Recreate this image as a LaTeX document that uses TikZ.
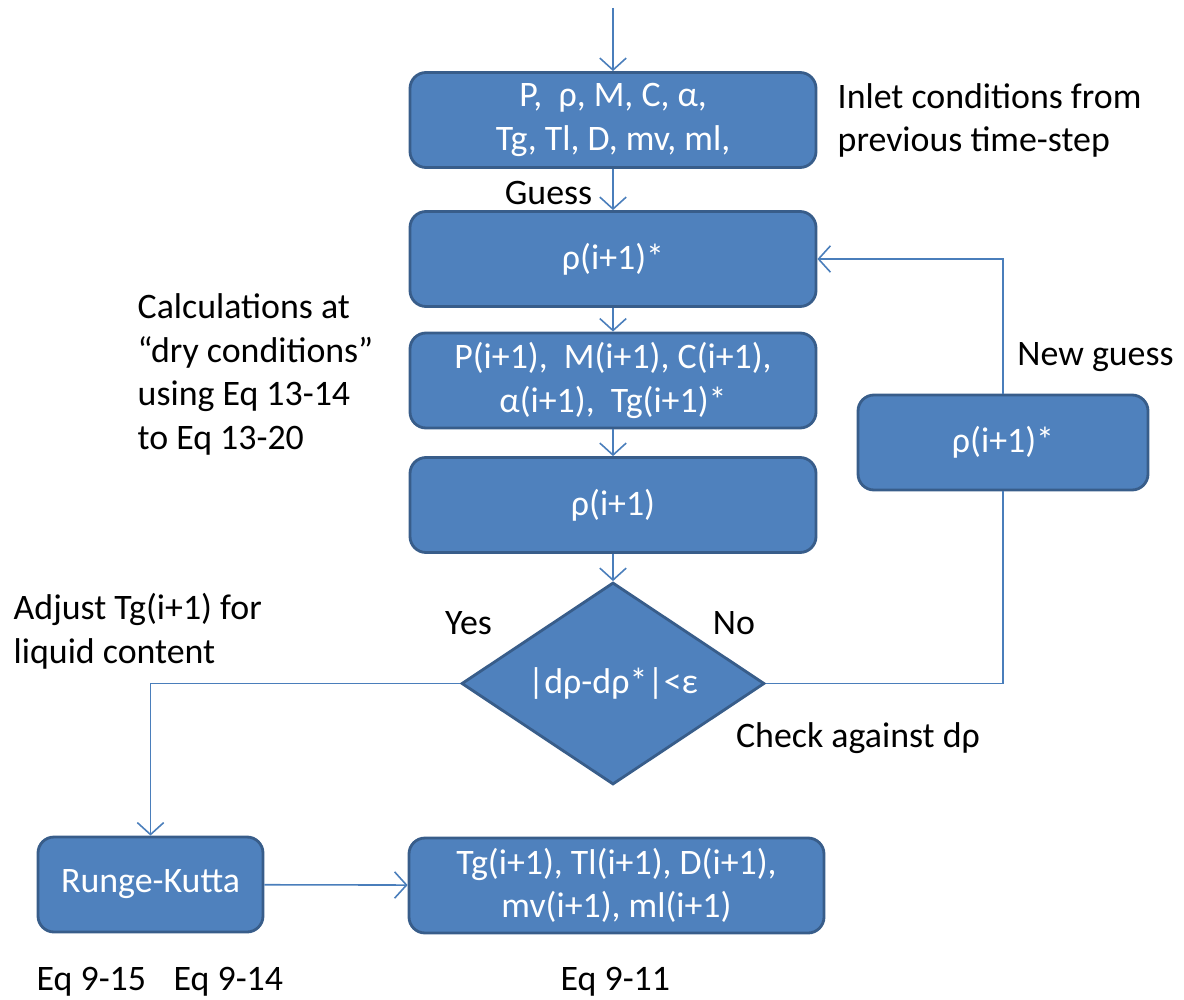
\documentclass[tikz,border=0pt]{standalone}
\usepackage{fontspec}
\setmainfont{Carlito}
\usepackage{xcolor}
\usepackage{tikz}
\usetikzlibrary{shapes, shapes.geometric, arrows.meta, positioning}
\definecolor{boxfill}{HTML}{4F81BD}
\definecolor{boxline}{HTML}{385D8A}
\definecolor{linkcol}{HTML}{4A7EBB}

\begin{document}
\begin{tikzpicture}[font=\fontsize{10.2}{12.4}\selectfont,
            >={Straight Barb[length=3.4pt, width=7.5pt]},
            box/.style={draw=boxline, line width=0.8pt, rectangle, rounded corners=0.16cm, fill=boxfill, text=white, align=center, minimum height=0.95cm, inner sep=0pt},
            decide/.style={draw=boxline, line width=0.8pt, diamond, fill=boxfill, text=white, minimum width=3.03cm, minimum height=1.97cm, inner sep=0pt},
            link/.style={draw=linkcol, line width=0.45pt},
            note/.style={inner sep=0pt, align=left}]
            \useasboundingbox (0,0) rectangle (11.84,-9.99);

            \node[box, minimum width=4.06cm] (inlet) at (6.13,-1.20) {P,\ \ ρ, M, C, α,\\Tg, Tl, D, mv, ml,};
            \node[box, minimum width=4.06cm] (guess) at (6.13,-2.59) {ρ(i+1)*};
            \node[box, minimum width=4.06cm] (dry) at (6.13,-3.805) {P(i+1),\ \ M(i+1), C(i+1),\\α(i+1),\ \ Tg(i+1)*};
            \node[box, minimum width=4.06cm] (rho) at (6.13,-5.05) {ρ(i+1)};
            \node[decide] (check) at (6.13,-6.835) {|dρ-dρ*|<ε};
            \node[box, minimum width=2.90cm] (newrho) at (10.03,-4.425) {ρ(i+1)*};
            \node[box, minimum width=2.25cm] (rk) at (1.505,-8.845) {Runge-Kutta};
            \node[box, minimum width=4.15cm] (result) at (6.165,-8.855) {Tg(i+1), Tl(i+1), D(i+1),\\mv(i+1), ml(i+1)};
            \coordinate (start) at (6.13,-0.08);

            \node[note, anchor=west] (inletnote) at (8.37,-1.205) {Inlet conditions from\\previous time-step};
            \node[note] (guessnote) at (5.485,-1.93) {Guess};
            \node[note, anchor=west] (drynote) at (1.37,-3.745) {Calculations at\\“dry conditions”\\using Eq 13-14\\to Eq 13-20};
            \node[note] (newnote) at (10.955,-3.57) {New guess};
            \node[note, anchor=west] (adjnote) at (0.13,-6.315) {Adjust Tg(i+1) for\\liquid content};
            \node[note] (yes) at (4.685,-6.23) {Yes};
            \node[note] (no) at (7.34,-6.23) {No};
            \node[note] (checknote) at (8.58,-7.38) {Check against dρ};
            \node[note, anchor=base west] (eqa) at (0.36,-9.90) {Eq 9-15};
            \node[note, anchor=base west] (eqb) at (1.73,-9.90) {Eq 9-14};
            \node[note, anchor=base west] (eqc) at (5.60,-9.90) {Eq 9-11};

            \draw[link, ->] (start) -- (inlet);
            \draw[link, ->] (inlet) -- (guess);
            \draw[link, ->] (guess) -- (dry);
            \draw[link, ->] (dry) -- (rho);
            \draw[link, ->] (rho) -- (check);
            \draw[link] (check.east) -| (newrho.south);
            \draw[link, ->] (newrho.north) |- (guess.east);
            \draw[link, ->] (check.west) -| (rk.north);
            \draw[link, ->] (rk) -- (result);
        \end{tikzpicture}
\end{document}
